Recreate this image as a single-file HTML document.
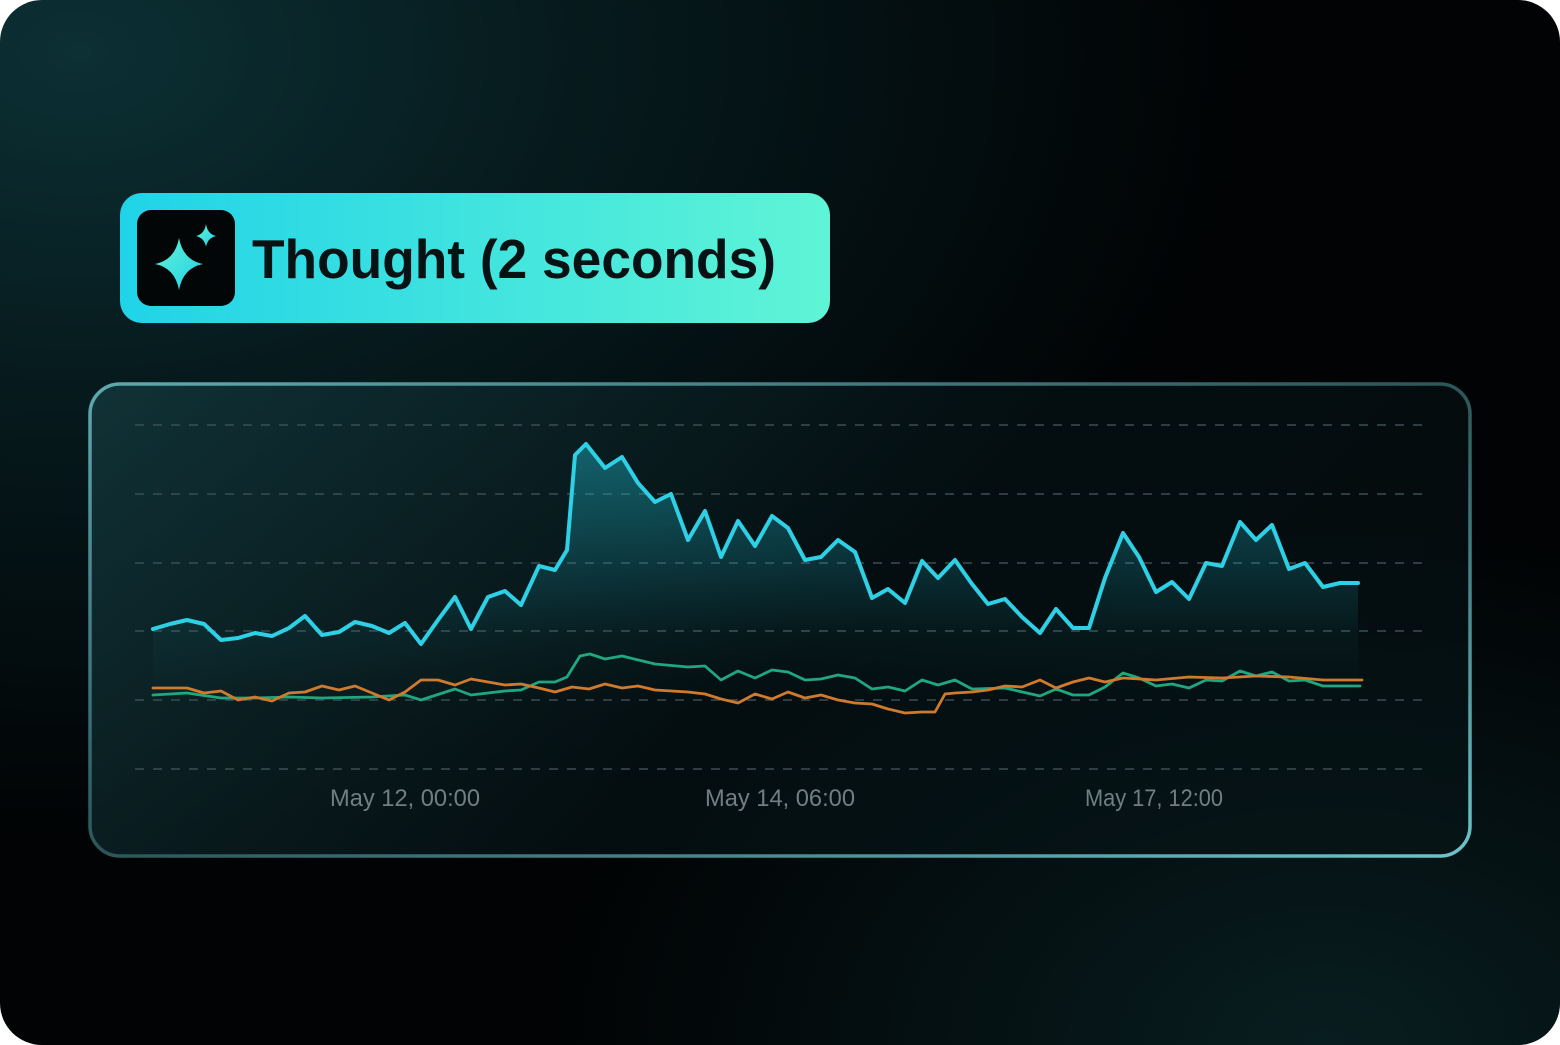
<!DOCTYPE html>
<html><head><meta charset="utf-8"><style>
html,body{margin:0;padding:0;background:#fff;}
svg{display:block;}
</style></head><body>
<svg width="1560" height="1045" viewBox="0 0 1560 1045" xmlns="http://www.w3.org/2000/svg">
<defs>
<radialGradient id="bg" cx="0.05" cy="0.05" r="0.75">
<stop offset="0" stop-color="#0c3034"/><stop offset="0.45" stop-color="#06191c"/><stop offset="1" stop-color="#010304"/>
</radialGradient>
<radialGradient id="bg2" cx="0.85" cy="1" r="0.5">
<stop offset="0" stop-color="#0a2427" stop-opacity="0.8"/><stop offset="1" stop-color="#0a2427" stop-opacity="0"/>
</radialGradient>
<linearGradient id="btn" x1="0" y1="0" x2="1" y2="0">
<stop offset="0" stop-color="#21d3e8"/><stop offset="1" stop-color="#5ff4d6"/>
</linearGradient>
<linearGradient id="panel" x1="0" y1="0" x2="1" y2="0.3">
<stop offset="0" stop-color="#143a3f" stop-opacity="0.75"/><stop offset="0.6" stop-color="#061518" stop-opacity="0.6"/><stop offset="1" stop-color="#061518" stop-opacity="0.5"/>
</linearGradient>
<linearGradient id="border" x1="0" y1="0" x2="1" y2="1">
<stop offset="0" stop-color="#5fa9b0"/><stop offset="0.5" stop-color="#2b5559"/><stop offset="1" stop-color="#6dc4cc"/>
</linearGradient>
<linearGradient id="area" x1="0" y1="0" x2="0" y2="1">
<stop offset="0" stop-color="#1fb6c9" stop-opacity="0.45"/><stop offset="0.75" stop-color="#1fb6c9" stop-opacity="0.05"/><stop offset="1" stop-color="#1fb6c9" stop-opacity="0"/>
</linearGradient>
<linearGradient id="star" x1="0" y1="0" x2="1" y2="1">
<stop offset="0" stop-color="#5ff4d6"/><stop offset="1" stop-color="#25cfe6"/>
</linearGradient>
</defs>
<rect x="0" y="0" width="1560" height="1045" rx="42" fill="url(#bg)"/>
<rect x="0" y="0" width="1560" height="1045" rx="42" fill="url(#bg2)"/>

<rect x="120" y="193" width="710" height="130" rx="22" fill="url(#btn)"/>
<rect x="137" y="210" width="98" height="96" rx="14" fill="#020607"/>
<path d="M179 238 Q183 260 203 264 Q183 268 179 290 Q175 268 155 264 Q175 260 179 238Z" fill="url(#star)"/>
<path d="M206 224 Q207.5 234 216 236 Q207.5 238 206 247 Q204.5 238 196 236 Q204.5 234 206 224Z" fill="url(#star)"/>
<text x="252" y="278" font-family="Liberation Sans, sans-serif" font-size="55" font-weight="bold" fill="#061214" textLength="524" lengthAdjust="spacingAndGlyphs">Thought (2 seconds)</text>

<rect x="90" y="384" width="1380" height="472" rx="30" fill="url(#panel)" stroke="url(#border)" stroke-width="3.5"/>

<g stroke="#3a4e52" stroke-width="1.6" stroke-dasharray="9 9">
<line x1="135" y1="425" x2="1425" y2="425"/><line x1="135" y1="494" x2="1425" y2="494"/>
<line x1="135" y1="563" x2="1425" y2="563"/><line x1="135" y1="631" x2="1425" y2="631"/>
<line x1="135" y1="700" x2="1425" y2="700"/><line x1="135" y1="769" x2="1425" y2="769"/>
</g>

<path fill="url(#area)" d="M153,629 L170,624 187,620 204,624 221,640 238,638 255,633 272,636 289,628 305,616 322,635 339,632 355,622 372,626 389,633 405,623 421,644 438,620 455,597 471,629 488,597 505,591 521,605 539,566 555,570 567,550 575,455 586,444 605,468 622,457 638,483 655,502 671,494 688,540 705,511 721,557 738,521 755,546 772,516 788,528 805,560 821,557 838,540 855,552 872,598 888,589 905,603 922,561 938,578 955,560 972,584 988,604 1005,599 1022,617 1040,633 1056,609 1073,628 1089,628 1105,578 1123,533 1139,557 1156,592 1172,582 1189,599 1206,563 1222,566 1240,522 1256,540 1272,525 1289,569 1305,563 1323,587 1340,583 1358,583 L1358,700 L153,700Z"/>

<g fill="none" stroke-linejoin="round" stroke-linecap="round">
<polyline stroke="#1fa77f" stroke-width="2.8" points="153,695 187,693 221,698 255,698 289,697 322,698 372,697 405,695 421,700 455,689 471,695 505,691 521,690 539,682 555,682 567,677 580,656 590,654 605,659 622,656 655,664 688,667 705,666 721,680 738,671 755,678 772,670 788,672 805,680 821,679 838,675 855,678 872,689 888,687 905,691 922,680 938,685 955,680 972,689 1005,688 1040,696 1056,689 1073,695 1089,695 1105,687 1123,673 1139,678 1156,686 1172,684 1189,688 1206,680 1222,681 1240,671 1256,676 1272,672 1289,681 1305,680 1323,686 1360,686"/>
<polyline stroke="#cf7a2c" stroke-width="2.8" points="153,688 187,688 204,693 221,691 238,700 255,697 272,701 289,693 305,692 322,686 339,690 355,686 372,693 389,700 405,692 421,680 438,680 455,685 471,679 505,685 521,684 539,688 555,692 572,687 589,689 605,684 622,688 638,686 655,690 688,692 705,694 721,699 738,703 755,694 772,699 788,692 805,698 821,695 838,700 855,703 872,704 888,709 905,713 922,712 935,712 945,694 955,693 972,692 988,690 1005,686 1022,687 1040,680 1056,688 1073,682 1089,678 1105,682 1123,678 1156,680 1189,677 1222,678 1256,676 1289,677 1323,680 1362,680"/>
<polyline stroke="#2ed0e6" stroke-width="4" points="153,629 170,624 187,620 204,624 221,640 238,638 255,633 272,636 289,628 305,616 322,635 339,632 355,622 372,626 389,633 405,623 421,644 438,620 455,597 471,629 488,597 505,591 521,605 539,566 555,570 567,550 575,455 586,444 605,468 622,457 638,483 655,502 671,494 688,540 705,511 721,557 738,521 755,546 772,516 788,528 805,560 821,557 838,540 855,552 872,598 888,589 905,603 922,561 938,578 955,560 972,584 988,604 1005,599 1022,617 1040,633 1056,609 1073,628 1089,628 1105,578 1123,533 1139,557 1156,592 1172,582 1189,599 1206,563 1222,566 1240,522 1256,540 1272,525 1289,569 1305,563 1323,587 1340,583 1358,583"/>
</g>

<g font-family="Liberation Sans, sans-serif" font-size="24" fill="#6f7f82" text-anchor="middle">
<text x="405" y="806" textLength="150" lengthAdjust="spacingAndGlyphs">May 12, 00:00</text>
<text x="780" y="806" textLength="150" lengthAdjust="spacingAndGlyphs">May 14, 06:00</text>
<text x="1154" y="806" textLength="138" lengthAdjust="spacingAndGlyphs">May 17, 12:00</text>
</g>
</svg>
</body></html>
